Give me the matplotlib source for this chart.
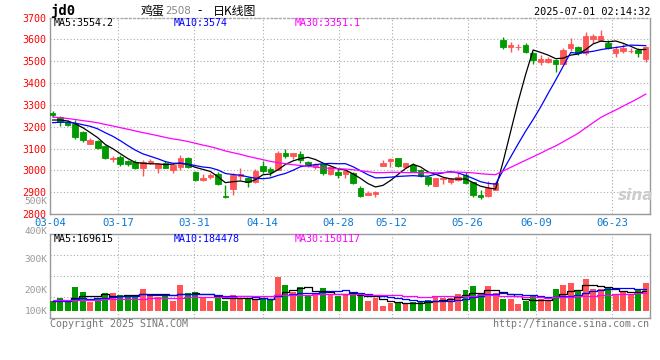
import numpy as np
import pandas as pd
import matplotlib.pyplot as plt

plt.rcParams['font.family'] = ['DejaVu Sans Mono', 'Noto Sans CJK SC']

# ---- datos ----
holidays = ['2025-04-04', '2025-05-01', '2025-05-02', '2025-05-05', '2025-06-02']
days = pd.bdate_range('2025-03-04', '2025-06-30').difference(pd.to_datetime(holidays))
tick_dates = ['03-04', '03-17', '03-31', '04-14', '04-28', '05-12', '05-26', '06-09', '06-23']

open_ = [3263, 3242, 3221, 3214, 3176, 3121, 3135, 3112, 3053, 3062,
         3042, 3036, 3009, 3033, 3009, 3032, 3001, 3015, 3058, 2992,
         2956, 2968, 2983, 2882, 2915, 2974, 2967, 2948, 3020, 3006,
         3002, 3079, 3067, 3074, 3038, 3014, 3027, 2982, 2994, 2982,
         2986, 2920, 2886, 2891, 3020, 3044, 3056, 3017, 3026, 3002,
         2968, 2930, 2959, 2948, 2956, 2979, 2945, 2888, 2883, 2911,
         3597, 3567, 3565, 3573, 3539, 3497, 3497, 3506, 3489, 3562,
         3565, 3536, 3603, 3597, 3582, 3539, 3547, 3545, 3551, 3512]
high = [3270, 3248, 3229, 3229, 3179, 3148, 3138, 3118, 3067, 3070,
        3047, 3047, 3047, 3054, 3035, 3042, 3032, 3070, 3062, 2998,
        2982, 2986, 2994, 2933, 2989, 3009, 2971, 3006, 3044, 3014,
        3089, 3097, 3079, 3089, 3044, 3035, 3032, 3020, 3009, 3002,
        2994, 2926, 2906, 2906, 3047, 3055, 3056, 3035, 3032, 3006,
        2974, 2967, 2971, 2967, 2989, 2994, 2948, 2911, 2952, 2948,
        3612, 3588, 3577, 3585, 3542, 3527, 3520, 3509, 3562, 3605,
        3570, 3633, 3623, 3642, 3597, 3570, 3577, 3562, 3562, 3570]
low = [3244, 3203, 3203, 3145, 3130, 3121, 3098, 3052, 3036, 3021,
       3018, 3006, 2976, 3027, 2986, 3009, 2988, 3000, 3009, 2950,
       2952, 2959, 2933, 2873, 2888, 2956, 2923, 2944, 2986, 2974,
       3000, 3055, 3050, 3032, 3017, 3005, 2979, 2979, 2967, 2964,
       2936, 2880, 2886, 2876, 3020, 3017, 3017, 3012, 2994, 2971,
       2930, 2930, 2938, 2938, 2953, 2936, 2876, 2870, 2877, 2908,
       3555, 3544, 3552, 3539, 3486, 3482, 3491, 3452, 3489, 3547,
       3527, 3530, 3585, 3592, 3555, 3517, 3539, 3536, 3517, 3497]
close = [3254, 3221, 3209, 3153, 3141, 3141, 3103, 3055, 3056, 3027,
         3030, 3012, 3038, 3042, 3027, 3012, 3024, 3058, 3017, 2958,
         2965, 2977, 2938, 2880, 2979, 2982, 2945, 2998, 2995, 2994,
         3080, 3067, 3079, 3047, 3026, 3029, 2986, 3014, 2980, 2998,
         2941, 2883, 2895, 2902, 3035, 3053, 3020, 3032, 2998, 2976,
         2938, 2967, 2964, 2959, 2971, 2941, 2885, 2880, 2921, 2944,
         3567, 3574, 3567, 3542, 3506, 3512, 3512, 3486, 3552, 3577,
         3536, 3615, 3615, 3615, 3562, 3555, 3562, 3547, 3539, 3565]
# volumen en miles de lotes
volume = [83, 111, 75, 203, 161, 75, 100, 150, 150, 133,
          117, 125, 186, 142, 119, 131, 83, 217, 150, 158,
          106, 83, 125, 83, 133, 103, 103, 94, 111, 94,
          283, 217, 158, 200, 133, 139, 192, 133, 128, 133,
          158, 122, 83, 108, 42, 67, 67, 61, 78, 78,
          89, 125, 108, 106, 142, 175, 208, 139, 208, 150,
          100, 100, 58, 83, 133, 100, 83, 183, 217, 233,
          175, 267, 183, 183, 192, 133, 158, 142, 175, 233]

# sesiones previas (febrero), solo para arrancar las medias móviles
prior_close = [3310, 3318, 3296, 3290, 3278, 3265, 3280, 3270, 3258, 3244,
               3250, 3262, 3255, 3240, 3246, 3232, 3210, 3218, 3206, 3212,
               3198, 3210, 3195, 3214, 3213, 3220, 3232, 3218, 3228]
prior_volume = [95, 102, 88, 110, 97, 85, 92, 120, 105, 90,
                84, 98, 86, 79, 93, 88, 101, 82, 76, 69,
                78, 91, 85, 74, 87, 80, 94, 72, 86]

W, H = 660, 360
RED = '#ff5555'
GREEN = '#009900'
GRID = '#aaaaaa'
BORDER = '#999999'
GRAY = '#999999'


def fx(px):
    return px / W


def fy(py):
    return 1 - py / H


n = len(close)
x = np.arange(n)
o = np.array(open_)
c = np.array(close)
col = np.where(c >= o, RED, GREEN)
dlabels = [d.strftime('%m-%d') for d in days]


def moving(prior, values, k):
    s = pd.Series(prior + values, dtype=float)
    return s.rolling(k).mean().to_numpy()[len(prior):]


# rango x y posición de las líneas verticales (como en el original)
xl, xr = -0.36, n - 1 + 0.57
tick_idx = [dlabels.index(t) for t in tick_dates]
tick_pos = [xl + i * (xr - xl) / (n - 1) for i in tick_idx]

fig = plt.figure(figsize=(W / 100, H / 100), dpi=100)
fig.patch.set_facecolor('white')

# ---- panel de precios ----
ax = fig.add_axes([fx(50), fy(214), 600 / W, (214 - 17.5) / H])
ax.vlines(x, low, high, colors=col, lw=1, zorder=3)
ax.bar(x, np.abs(c - o), bottom=np.minimum(o, c), width=0.74,
       color=col, edgecolor=col, lw=0.6, zorder=3)
ax.plot(x, moving(prior_close, close, 5), color='black', lw=0.9, zorder=4)
ax.plot(x, moving(prior_close, close, 10), color='#0000ff', lw=0.9, zorder=4)
ax.plot(x, moving(prior_close, close, 30), color='#ff00ff', lw=0.9, zorder=4)

ax.set_xlim(xl, xr)
ax.set_ylim(2800, 3700)
ax.set_yticks(range(2800, 3701, 100))
ax.set_xticks(tick_pos)
ax.set_xticklabels(tick_dates)
ax.tick_params(axis='y', length=0, pad=2.5, labelcolor='red', labelsize=7.2)
ax.tick_params(axis='x', length=0, pad=3, labelcolor='#0a78d2', labelsize=7.6)
ax.grid(True, ls=(0, (1, 2)), color=GRID, lw=0.8, zorder=0)
for s in ax.spines.values():
    s.set_color(BORDER)
    s.set_linewidth(1)
ax.spines['top'].set_linestyle((0, (1, 2)))
ax.spines['top'].set_color(GRID)

fig.text(fx(54), fy(23.5), 'MA5:3554.2', color='black', fontsize=7.2, va='center')
fig.text(fx(174), fy(23.5), 'MA10:3574', color='#0000ff', fontsize=7.2, va='center')
fig.text(fx(295), fy(23.5), 'MA30:3351.1', color='#ff00ff', fontsize=7.2, va='center')
fig.text(fx(636), fy(196), 'sina', color='#cccccc', fontsize=11, style='italic',
         weight='bold', family='DejaVu Sans', ha='center', va='center')

# ---- panel de volumen ----
axv = fig.add_axes([fx(50), fy(318.3), 600 / W, (318.3 - 234.3) / H])
axv.bar(x, volume, width=0.78, color=col, zorder=3)
axv.plot(x, moving(prior_volume, volume, 5), color='black', lw=0.9,
         drawstyle='steps-mid', zorder=4)
axv.plot(x, moving(prior_volume, volume, 10), color='#0000ff', lw=0.9,
         drawstyle='steps-mid', zorder=4)
axv.plot(x, moving(prior_volume, volume, 30), color='#ff00ff', lw=0.9,
         drawstyle='steps-mid', zorder=4)
vlo, vhi = -61, 639
axv.set_xlim(xl, xr)
axv.set_ylim(vlo, vhi)
axv.set_yticks([vlo + (vhi - vlo) * q for q in (0.25, 0.5, 0.75)])
axv.set_xticks(tick_pos)
axv.tick_params(length=0, labelleft=False, labelbottom=False)
axv.grid(True, ls=(0, (1, 2)), color=GRID, lw=0.8, zorder=0)
for s in axv.spines.values():
    s.set_color(BORDER)
    s.set_linewidth(1)

fig.text(fx(54), fy(239), 'MA5:169615', color='black', fontsize=7.2, va='center')
fig.text(fx(174), fy(239), 'MA10:184478', color='#0000ff', fontsize=7.2, va='center')
fig.text(fx(295), fy(239), 'MA30:150117', color='#ff00ff', fontsize=7.2, va='center')

# etiquetas del volumen (posiciones tal como en el original)
for lab, py in [('500K', 202), ('400K', 231.5), ('300K', 260), ('200K', 290.5), ('100K', 311)]:
    fig.text(fx(47.5), fy(py), lab, color=GRAY, fontsize=6.8, ha='right', va='center')

# ---- cabecera y pie ----
fig.text(fx(50), fy(11), 'jd0', fontsize=10, weight='bold', va='center')
fig.text(fx(141), fy(11), '鸡蛋', fontsize=8.6, va='center', family='Noto Sans CJK SC')
fig.text(fx(165), fy(11.5), '2508', fontsize=7.4, va='center', color='#888888',
         family='DejaVu Sans')
fig.text(fx(197), fy(11), '-', fontsize=8.6, va='center', family='DejaVu Sans')
fig.text(fx(213), fy(11), '日K线图', fontsize=8.6, va='center', family='Noto Sans CJK SC')
fig.text(fx(650), fy(12), '2025-07-01 02:14:32', fontsize=7.4, ha='right', va='center')
fig.text(fx(50), fy(324), 'Copyright 2025 SINA.COM', fontsize=7.2, color='#777777', va='center')
fig.text(fx(649), fy(324), 'http://finance.sina.com.cn', fontsize=7.2, color='#777777',
         ha='right', va='center')

fig.savefig('out.png', dpi=100)
